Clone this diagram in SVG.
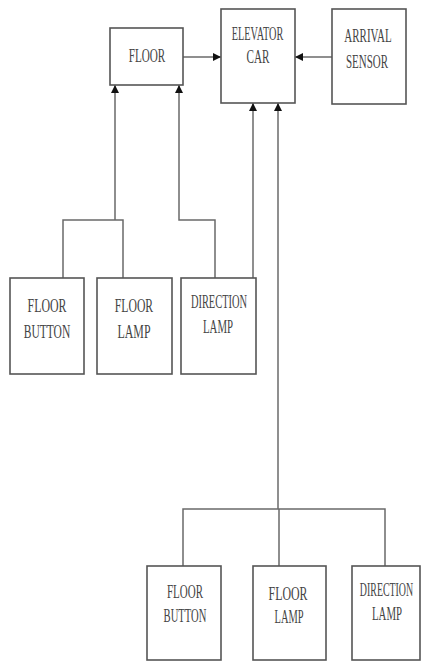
<svg xmlns="http://www.w3.org/2000/svg" width="424" height="662" viewBox="0 0 424 662">
<style>
.box{fill:#fff;stroke:#555;stroke-width:1.6}
.t{font-family:"Liberation Serif","Times New Roman",serif;font-size:18px;fill:#444;text-anchor:middle}
.c{fill:none;stroke:#6a6a6a;stroke-width:1.5}
</style>
<defs>
<marker id="ah" viewBox="0 0 10 10" refX="10" refY="5" markerWidth="9" markerHeight="8" markerUnits="userSpaceOnUse" orient="auto">
<path d="M0,0 L10,5 L0,10 Z" fill="#111"/>
</marker>
</defs>
<rect width="424" height="662" fill="#fff"/>
<g id="connectors">
<path class="c" d="M183,57 H221" marker-end="url(#ah)"/>
<path class="c" d="M332,57 H295" marker-end="url(#ah)"/>
<path class="c" d="M63,278 V220 H123 V278 M115,220 V85" marker-end="url(#ah)"/>
<path class="c" d="M215,278 V220 H179 V85" marker-end="url(#ah)"/>
<path class="c" d="M253,278 V103" marker-end="url(#ah)"/>
<path class="c" d="M183,566 V509 H385 V566 M279,566 V509"/>
<path class="c" d="M278,509 V103" marker-end="url(#ah)"/>
</g>
<g id="floor">
<rect class="box" x="110" y="28" width="73" height="57"/>
<text class="t" transform="translate(147,62) scale(0.62,1)">FLOOR</text>
</g>
<g id="elevator-car">
<rect class="box" x="221" y="9" width="74" height="94"/>
<text class="t" transform="translate(257.5,40) scale(0.57,1)">ELEVATOR</text>
<text class="t" transform="translate(258,63) scale(0.62,1)">CAR</text>
</g>
<g id="arrival-sensor">
<rect class="box" x="332" y="9" width="74" height="95"/>
<text class="t" transform="translate(368,42) scale(0.61,1)">ARRIVAL</text>
<text class="t" transform="translate(367,68) scale(0.61,1)">SENSOR</text>
</g>
<g id="floor-button-1">
<rect class="box" x="10" y="278" width="74" height="96"/>
<text class="t" transform="translate(47,312) scale(0.66,1)">FLOOR</text>
<text class="t" transform="translate(47,338) scale(0.64,1)">BUTTON</text>
</g>
<g id="floor-lamp-1">
<rect class="box" x="97" y="278" width="75" height="96"/>
<text class="t" transform="translate(134,312) scale(0.65,1)">FLOOR</text>
<text class="t" transform="translate(134,338) scale(0.66,1)">LAMP</text>
</g>
<g id="direction-lamp-1">
<rect class="box" x="181" y="278" width="75" height="96"/>
<text class="t" transform="translate(219,308) scale(0.58,1)">DIRECTION</text>
<text class="t" transform="translate(218,333) scale(0.6,1)">LAMP</text>
</g>
<g id="floor-button-2">
<rect class="box" x="147" y="566" width="74" height="94"/>
<text class="t" transform="translate(185,598) scale(0.61,1)">FLOOR</text>
<text class="t" transform="translate(185,622) scale(0.59,1)">BUTTON</text>
</g>
<g id="floor-lamp-2">
<rect class="box" x="253" y="566" width="73" height="94"/>
<text class="t" transform="translate(288,600) scale(0.66,1)">FLOOR</text>
<text class="t" transform="translate(289,623) scale(0.58,1)">LAMP</text>
</g>
<g id="direction-lamp-2">
<rect class="box" x="352" y="566" width="68" height="94"/>
<text class="t" transform="translate(386.5,596) scale(0.55,1)">DIRECTION</text>
<text class="t" transform="translate(387,620) scale(0.6,1)">LAMP</text>
</g>
</svg>
